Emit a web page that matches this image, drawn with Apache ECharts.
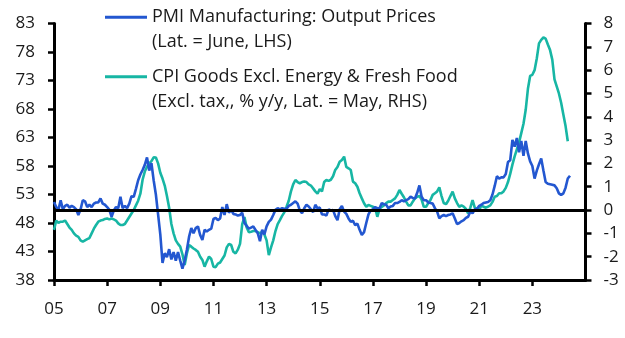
<!DOCTYPE html>
<html>
<head>
<meta charset="utf-8">
<script src="https://cdn.jsdelivr.net/npm/echarts@6/dist/echarts.min.js"></script>
<style>
  html, body { margin: 0; padding: 0; background: #ffffff; }
  #chart { width: 625px; height: 338px; }
</style>
</head>
<body>
<div id="chart"></div>
<script>
// Monthly series, first observation January 2005
const startYear = 2005;

// PMI Manufacturing: Output Prices (index, left axis), Jan 2005 - Jun 2024
const pmiOutputPrices = [
  51.7, 50.8, 50.3, 52.0, 50.4, 51.0, 51.2, 50.7, 51.0, 50.8, 50.4, 49.4, // 2005
  50.4, 52.0, 51.8, 50.8, 51.2, 50.8, 51.4, 51.6, 51.6, 52.3, 51.4, 51.2, // 2006
  50.8, 50.3, 49.1, 50.2, 50.8, 50.6, 52.6, 50.6, 51.0, 50.6, 51.4, 52.7, // 2007
  52.6, 54.0, 55.5, 56.5, 57.3, 58.2, 59.5, 57.2, 58.5, 55.5, 53.0, 49.5, // 2008
  46.0, 41.0, 42.7, 42.0, 43.4, 41.6, 42.9, 41.4, 42.9, 41.4, 40.0, 41.4, // 2009
  43.3, 45.6, 47.1, 46.2, 47.1, 47.4, 45.9, 45.0, 46.8, 46.5, 46.8, 47.0, // 2010
  48.7, 48.9, 48.5, 48.8, 50.8, 49.4, 51.3, 49.8, 50.3, 49.6, 49.5, 49.3, // 2011
  49.4, 49.8, 48.0, 47.5, 47.0, 47.2, 47.4, 46.8, 46.2, 44.8, 46.8, 46.0, // 2012
  47.4, 48.2, 48.6, 49.4, 50.3, 50.6, 50.4, 50.6, 50.5, 50.5, 51.0, 51.2, // 2013
  51.5, 51.8, 51.4, 50.2, 49.7, 50.6, 51.2, 50.9, 50.4, 49.9, 51.2, 50.6, // 2014
  50.7, 49.5, 49.5, 49.3, 50.4, 50.2, 50.3, 49.2, 48.5, 50.4, 51.0, 50.0, // 2015
  49.6, 48.8, 48.2, 48.4, 47.6, 47.9, 46.8, 45.9, 46.4, 48.0, 49.5, 50.2, // 2016
  50.4, 50.8, 50.6, 50.6, 51.5, 51.3, 51.2, 50.6, 50.9, 51.0, 51.5, 51.5, // 2017
  51.7, 52.0, 51.8, 52.0, 52.2, 52.6, 52.4, 52.3, 53.3, 54.6, 52.6, 52.0, // 2018
  52.0, 51.6, 51.5, 51.4, 50.6, 50.0, 48.8, 49.2, 49.4, 49.2, 49.4, 49.5, // 2019
  49.7, 48.8, 47.8, 48.0, 48.3, 48.5, 48.9, 49.1, 50.0, 49.7, 50.4, 50.5, // 2020
  51.0, 51.2, 51.5, 51.6, 51.7, 52.0, 53.0, 54.5, 56.2, 55.8, 56.0, 56.0, // 2021
  56.6, 58.7, 59.0, 62.6, 61.4, 62.9, 60.4, 62.4, 59.8, 62.4, 60.2, 58.8, // 2022
  58.0, 55.8, 57.2, 58.3, 59.3, 57.2, 55.2, 54.9, 54.8, 54.7, 54.6, 54.1, // 2023
  53.2, 52.9, 53.2, 54.2, 55.8, 56.3                                      // 2024
];

// CPI goods excl. energy & fresh food (excl. tax, % y/y, right axis), Jan 2005 - May 2024
const cpiCoreGoods = [
  -0.85, -0.45, -0.55, -0.50, -0.50, -0.45, -0.60, -0.75, -0.85, -1.00, -1.10, -1.15, // 2005
  -1.30, -1.36, -1.30, -1.25, -1.20, -1.00, -0.80, -0.64, -0.50, -0.45, -0.43, -0.38, // 2006
  -0.36, -0.40, -0.36, -0.40, -0.45, -0.57, -0.64, -0.64, -0.60, -0.45, -0.30, -0.15, // 2007
   0.00,  0.20,  0.40,  0.70,  1.30,  1.65,  1.86,  2.00,  2.10,  2.26,  2.25,  2.00, // 2008
   1.60,  1.35,  1.05,  0.60,  0.10, -0.60, -1.00, -1.30, -1.45, -1.57, -1.90, -2.36, // 2009
  -1.86, -1.50, -1.57, -1.65, -1.71, -1.79, -2.00, -2.14, -2.43, -2.20, -2.00, -2.10, // 2010
  -2.43, -2.45, -2.30, -2.25, -2.10, -1.95, -1.60, -1.45, -1.50, -1.79, -1.86, -1.70, // 2011
  -1.45, -0.60, -0.30, -0.75, -0.95, -0.93, -0.90, -0.90, -0.95, -1.00, -0.93, -1.05, // 2012
  -1.30, -1.93, -1.60, -1.30, -0.90, -0.60, -0.43, -0.25, -0.10,  0.14,  0.40,  0.80, // 2013
   1.10,  1.29,  1.20,  1.15,  1.20,  1.22,  1.20,  1.10,  1.05,  0.93,  0.80,  0.70, // 2014
   0.90,  0.80,  1.20,  1.29,  1.25,  1.30,  1.45,  1.72,  1.85,  2.07,  2.15,  2.29, // 2015
   1.85,  1.79,  1.72,  1.22,  1.15,  1.00,  0.72,  0.50,  0.29,  0.14,  0.22,  0.18, // 2016
   0.14,  0.10, -0.29,  0.05,  0.14,  0.20,  0.30,  0.36,  0.36,  0.43,  0.50,  0.65, // 2017
   0.86,  0.70,  0.55,  0.36,  0.20,  0.20,  0.36,  0.50,  0.57,  0.60,  0.45,  0.14, // 2018
   0.14,  0.30,  0.43,  0.65,  0.72,  0.80,  0.97,  0.60,  0.30,  0.25,  0.40,  0.60, // 2019
   0.79,  0.50,  0.30,  0.14,  0.20,  0.15,  0.05, -0.14,  0.10,  0.43,  0.10,  0.05, // 2020
   0.00,  0.20,  0.14,  0.10,  0.15,  0.20,  0.35,  0.57,  0.60,  0.72,  0.72,  0.80, // 2021
   0.95,  1.20,  1.55,  1.95,  2.30,  2.60,  2.90,  3.30,  3.70,  4.30,  5.20,  5.75, // 2022
   5.80,  6.00,  6.50,  7.15,  7.30,  7.40,  7.35,  7.10,  6.86,  6.45,  5.60,  5.30, // 2023
   5.00,  4.60,  4.10,  3.60,  2.95                                                  // 2024
];

// Axis ranges and ticks
const leftAxisTicks = { min: 38, max: 83, step: 5 };
const rightAxisTicks = { min: -3, max: 8, step: 1 };
const yearTicks = { min: 2005, max: 2025, step: 2 };

const seriesNames = [
  'PMI Manufacturing: Output Prices',
  'CPI Goods Excl. Energy & Fresh Food'
];
const legendSubtitles = [
  '(Lat. = June, LHS)',
  '(Excl. tax,, % y/y, Lat. = May, RHS)'
];

// Monthly values -> [decimal year, value]
function toPoints(values) {
  return values.map((v, i) => [startYear + i / 12, v]);
}

const FONT = '"Open Sans", "Noto Sans", sans-serif';
const INK = '#1a1a1a';
const BLUE = '#2357d0';
const TEAL = '#17b6a4';

const chart = echarts.init(document.getElementById('chart'), null, { renderer: 'canvas' });

chart.setOption({
  animation: false,
  backgroundColor: '#ffffff',
  textStyle: { fontFamily: FONT },
  grid: { left: 54, right: 39.5, top: 23.5, bottom: 58, containLabel: false },
  legend: {
    orient: 'vertical',
    left: 105,
    top: -20.2,
    padding: 0,
    itemGap: -15.6,
    itemWidth: 42,
    itemHeight: 3,
    icon: 'rect',
    selectedMode: false,
    data: seriesNames,
    // blank first line keeps the key line level with the series name
    formatter: name => '\n' + name + '\n' + legendSubtitles[seriesNames.indexOf(name)],
    textStyle: {
      fontFamily: FONT,
      fontSize: 18,
      color: INK,
      lineHeight: 25
    }
  },
  xAxis: {
    type: 'value',
    min: yearTicks.min,
    max: yearTicks.max,
    interval: yearTicks.step,
    splitLine: { show: false },
    axisLine: { show: true, onZero: false, lineStyle: { color: '#000', width: 3 } },
    axisTick: { show: true, inside: false, length: 6, lineStyle: { color: '#000', width: 2.5 } },
    axisLabel: {
      show: true,
      margin: 21,
      fontFamily: FONT,
      fontSize: 17,
      color: INK,
      showMaxLabel: false,
      formatter: v => (v >= yearTicks.max ? '' : String(v).slice(2))
    }
  },
  yAxis: [
    {
      type: 'value',
      position: 'left',
      min: leftAxisTicks.min,
      max: leftAxisTicks.max,
      interval: leftAxisTicks.step,
      splitLine: { show: false },
      axisLine: { show: true, onZero: false, lineStyle: { color: '#000', width: 3 } },
      axisTick: { show: true, inside: false, length: 6, lineStyle: { color: '#000', width: 2.5 } },
      axisLabel: { margin: 19, fontFamily: FONT, fontSize: 17, color: INK }
    },
    {
      type: 'value',
      position: 'right',
      min: rightAxisTicks.min,
      max: rightAxisTicks.max,
      interval: rightAxisTicks.step,
      splitLine: { show: false },
      axisLine: { show: true, onZero: false, lineStyle: { color: '#000', width: 3 } },
      axisTick: { show: true, inside: false, length: 6, lineStyle: { color: '#000', width: 2.5 } },
      axisLabel: { margin: 18, fontFamily: FONT, fontSize: 17, color: INK }
    }
  ],
  series: [
    {
      name: seriesNames[0],
      type: 'line',
      yAxisIndex: 0,
      data: toPoints(pmiOutputPrices),
      showSymbol: false,
      symbol: 'none',
      color: BLUE,
      lineStyle: { color: BLUE, width: 2.6 },
      z: 3
    },
    {
      name: seriesNames[1],
      type: 'line',
      yAxisIndex: 1,
      data: toPoints(cpiCoreGoods),
      showSymbol: false,
      symbol: 'none',
      color: TEAL,
      lineStyle: { color: TEAL, width: 2.6 },
      z: 2,
      markLine: {
        silent: true,
        symbol: 'none',
        label: { show: false },
        lineStyle: { color: '#000', width: 2.8, type: 'solid' },
        data: [{ yAxis: 0 }]
      }
    }
  ]
});
</script>
</body>
</html>
